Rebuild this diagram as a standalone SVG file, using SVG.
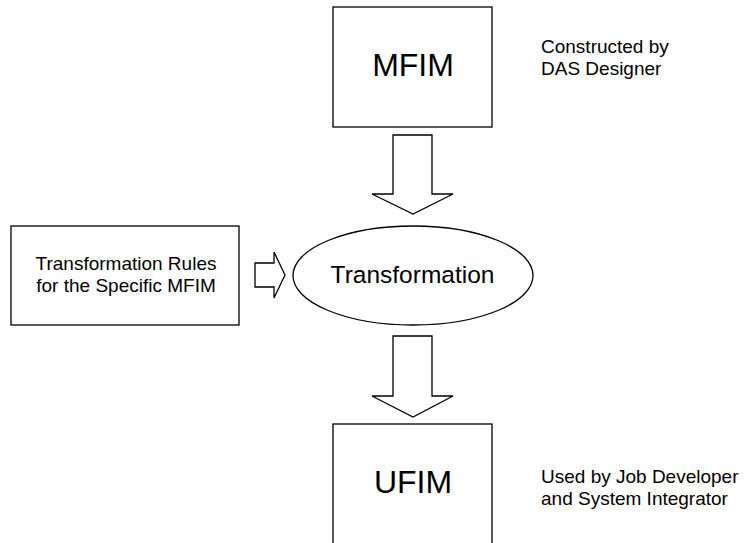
<svg xmlns="http://www.w3.org/2000/svg" width="745" height="543" viewBox="0 0 745 543">
  <style>
    .shape { fill: #ffffff; stroke: #000000; stroke-width: 1.3; }
    .big { font-family: "Liberation Sans", Arial, sans-serif; font-size: 32px; fill: #000; text-anchor: middle; }
    .mid { font-family: "Liberation Sans", Arial, sans-serif; font-size: 24.5px; fill: #000; text-anchor: middle; }
    .small { font-family: "Liberation Sans", Arial, sans-serif; font-size: 19px; fill: #000; }
  </style>
  <rect width="745" height="543" fill="#ffffff"/>

  <g id="mfim">
    <rect class="shape" x="333" y="7" width="159" height="120"/>
    <text class="big" x="413" y="76">MFIM</text>
  </g>
  <g id="mfim-note">
    <text class="small" x="541" y="53">Constructed by</text>
    <text class="small" x="541" y="75">DAS Designer</text>
  </g>

  <g id="rules">
    <rect class="shape" x="11" y="226" width="228" height="99"/>
    <text class="small" x="126" y="270" text-anchor="middle">Transformation Rules</text>
    <text class="small" x="126" y="292" text-anchor="middle">for the Specific MFIM</text>
  </g>

  <g id="transformation">
    <ellipse class="shape" cx="413" cy="275.5" rx="120" ry="49.5"/>
    <text class="mid" x="412.5" y="283">Transformation</text>
  </g>

  <g id="ufim">
    <rect class="shape" x="333" y="424" width="159" height="125"/>
    <text class="big" x="413" y="493">UFIM</text>
  </g>
  <g id="ufim-note">
    <text class="small" x="541" y="483">Used by Job Developer</text>
    <text class="small" x="541" y="505">and System Integrator</text>
  </g>

  <g id="connectors">
    <!-- block arrow MFIM -> Transformation -->
    <path class="shape" d="M393,135 H432 V194 H453 L413,214 L372,194 H393 Z"/>
    <!-- block arrow Rules -> Transformation -->
    <path class="shape" d="M255,263 H274 V252 L285,275 L274,298 V287 H255 Z"/>
    <!-- block arrow Transformation -> UFIM -->
    <path class="shape" d="M393,336 H432 V396 H453 L413,417 L372,396 H393 Z"/>
  </g>
</svg>
